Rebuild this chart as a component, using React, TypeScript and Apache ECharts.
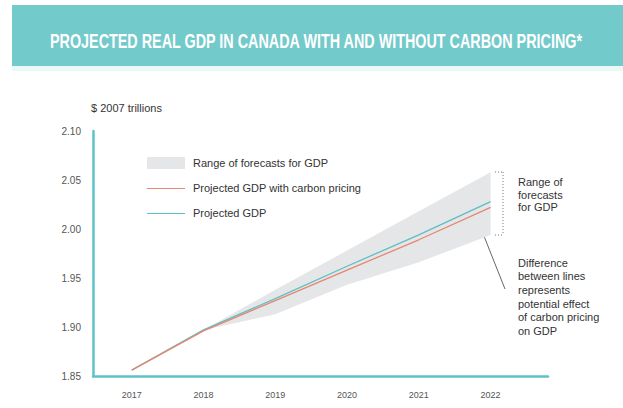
import React, { useEffect, useRef } from "react";
import * as echarts from "echarts";

const years = [2017, 2018, 2019, 2020, 2021, 2022];
const projectedGdp = [1.856, 1.897, 1.929, 1.962, 1.994, 2.028];
const gdpWithCarbonPricing = [1.856, 1.896, 1.927, 1.958, 1.989, 2.022];
const rangeYears = [2018, 2019, 2020, 2021, 2022];
const rangeLow = [1.897, 1.913, 1.943, 1.966, 1.994];
const rangeHigh = [1.897, 1.938, 1.978, 2.018, 2.058];

const titleText = "PROJECTED REAL GDP IN CANADA WITH AND WITHOUT CARBON PRICING*";
const yUnit = "$ 2007 trillions";
const legendItems = [
  "Range of forecasts for GDP",
  "Projected GDP with carbon pricing",
  "Projected GDP",
];
const rangeNote = "Range of\nforecasts\nfor GDP";
const diffNote =
  "Difference\nbetween lines\nrepresents\npotential effect\nof carbon pricing\non GDP";

const TEAL = "#73CACB";
const AXIS = "#5EC3C9";
const BLUE = "#5BBFC6";
const RED = "#E9866F";
const BAND = "#E5E6E7";
const FONT = "'Liberation Sans', Arial, Helvetica, sans-serif";
const TITLE_FONT = "'Liberation Sans', Arial, sans-serif";

export default function App() {
  const ref = useRef<HTMLDivElement>(null);
  useEffect(() => {
    if (!ref.current) return;
    const chart = echarts.init(ref.current, undefined, { renderer: "svg" });

    // measure title to squeeze it to the condensed width of the reference
    let titleScale = 0.655;
    try {
      const c = document.createElement("canvas").getContext("2d");
      if (c) {
        c.font = "bold 21px 'Liberation Sans', Arial, sans-serif";
        const w = c.measureText(titleText).width;
        if (w > 0) titleScale = 534 / w;
      }
    } catch (e) {}

    // arrow geometry
    const tail = [505, 289];
    const head = [478, 221];
    const dx = head[0] - tail[0];
    const dy = head[1] - tail[1];
    const len = Math.sqrt(dx * dx + dy * dy);
    const ux = dx / len;
    const uy = dy / len;
    const hl = 7;
    const ang = (28 * Math.PI) / 180;
    const rot = (a: number) => [
      -(ux * Math.cos(a) - uy * Math.sin(a)) * hl,
      -(ux * Math.sin(a) + uy * Math.cos(a)) * hl,
    ];
    const r1 = rot(ang);
    const r2 = rot(-ang);

    chart.setOption({
      animation: false,
      grid: { left: 93, right: 75, top: 131, bottom: 32 },
      xAxis: {
        type: "value",
        min: 2016.46,
        max: 2022.8,
        splitLine: { show: false },
        axisLine: { show: true, lineStyle: { color: AXIS, width: 2.5 } },
        axisTick: { show: false },
        axisLabel: {
          customValues: years,
          formatter: (v: number) => String(v),
          color: "#555",
          fontSize: 9,
          fontFamily: FONT,
          margin: 14,
        },
      },
      yAxis: {
        type: "value",
        min: 1.85,
        max: 2.1,
        interval: 0.05,
        splitLine: { show: false },
        axisLine: { show: true, lineStyle: { color: AXIS, width: 2.5 } },
        axisTick: { show: false },
        axisLabel: {
          formatter: (v: number) => v.toFixed(2),
          color: "#555",
          fontSize: 10,
          fontFamily: FONT,
          margin: 12,
        },
      },
      series: [
        {
          type: "custom",
          silent: true,
          data: [0],
          renderItem: (params: any, api: any) => {
            const pts: number[][] = [];
            rangeYears.forEach((y, i) => pts.push(api.coord([y, rangeHigh[i]])));
            for (let i = rangeYears.length - 1; i >= 0; i--) {
              pts.push(api.coord([rangeYears[i], rangeLow[i]]));
            }
            return {
              type: "polygon",
              shape: { points: pts },
              style: { fill: BAND, stroke: "none" },
            };
          },
        },
        {
          type: "line",
          data: years.map((y, i) => [y, projectedGdp[i]]),
          lineStyle: { color: BLUE, width: 1.3 },
          symbol: "none",
        },
        {
          type: "line",
          data: years.map((y, i) => [y, gdpWithCarbonPricing[i]]),
          lineStyle: { color: RED, width: 1.3 },
          symbol: "none",
        },
      ],
      graphic: [
        { type: "rect", shape: { x: 12, y: 5, width: 611, height: 61 }, style: { fill: TEAL } },
        { type: "rect", shape: { x: 12, y: 66, width: 611, height: 5 }, style: { fill: "#EAF8F8" } },
        {
          type: "text",
          x: 316,
          y: 41,
          scaleX: titleScale,
          style: {
            text: titleText,
            fill: "#FFFFFF",
            fontSize: 21,
            fontWeight: "bold",
            fontFamily: TITLE_FONT,
            textAlign: "center",
            textVerticalAlign: "middle",
          },
        },
        {
          type: "text",
          x: 91,
          y: 108,
          style: {
            text: yUnit,
            fill: "#333",
            fontSize: 11,
            fontFamily: FONT,
            textVerticalAlign: "middle",
          },
        },
        // legend
        { type: "rect", shape: { x: 147, y: 157, width: 38, height: 12 }, style: { fill: BAND } },
        { type: "line", shape: { x1: 147, y1: 188.5, x2: 185, y2: 188.5 }, style: { stroke: RED, lineWidth: 1.2 } },
        { type: "line", shape: { x1: 147, y1: 213.5, x2: 185, y2: 213.5 }, style: { stroke: BLUE, lineWidth: 1.2 } },
        ...legendItems.map((t, i) => ({
          type: "text",
          x: 193,
          y: 163 + i * 25,
          style: {
            text: t,
            fill: "#333",
            fontSize: 11,
            fontFamily: FONT,
            textVerticalAlign: "middle",
          },
        })),
        // range bracket (dotted)
        { type: "line", shape: { x1: 503, y1: 172, x2: 503, y2: 235 }, style: { stroke: "#777", lineWidth: 1, lineDash: [1, 2] } },
        { type: "line", shape: { x1: 495, y1: 172, x2: 503, y2: 172 }, style: { stroke: "#777", lineWidth: 1, lineDash: [1, 2] } },
        { type: "line", shape: { x1: 495, y1: 235, x2: 503, y2: 235 }, style: { stroke: "#777", lineWidth: 1, lineDash: [1, 2] } },
        {
          type: "text",
          x: 518,
          y: 176,
          style: {
            text: rangeNote,
            fill: "#333",
            fontSize: 11,
            lineHeight: 12.5,
            fontFamily: FONT,
          },
        },
        {
          type: "text",
          x: 518,
          y: 256,
          style: {
            text: diffNote,
            fill: "#333",
            fontSize: 11,
            lineHeight: 13.6,
            fontFamily: FONT,
          },
        },
        // arrow
        { type: "line", shape: { x1: tail[0], y1: tail[1], x2: head[0], y2: head[1] }, style: { stroke: "#666", lineWidth: 1 } },
        {
          type: "polyline",
          shape: {
            points: [
              [head[0] + r1[0], head[1] + r1[1]],
              head,
              [head[0] + r2[0], head[1] + r2[1]],
            ],
          },
          style: { stroke: "#666", lineWidth: 1, fill: "none" },
        },
      ],
    });
    return () => chart.dispose();
  }, []);
  return (
    <div
      ref={ref}
      style={{ position: "fixed", left: 0, top: 0, width: 623, height: 408, background: "#fff" }}
    />
  );
}
